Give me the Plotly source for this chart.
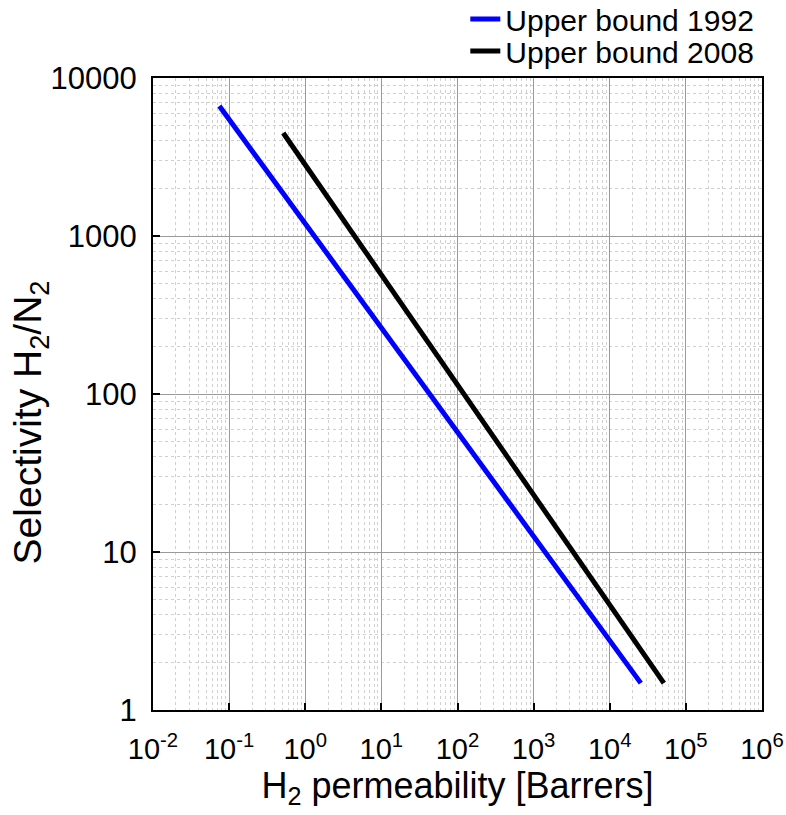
import plotly.graph_objects as go

# Data
perm_1992 = [0.0744, 25600]
sel_1992 = [6650, 1.48]
perm_2008 = [0.514, 51400]
sel_2008 = [4486, 1.48]

x_tickvals = [1e-2, 1e-1, 1e0, 1e1, 1e2, 1e3, 1e4, 1e5, 1e6]
x_ticktext = ["10<sup>-2</sup>", "10<sup>-1</sup>", "10<sup>0</sup>", "10<sup>1</sup>",
              "10<sup>2</sup>", "10<sup>3</sup>", "10<sup>4</sup>", "10<sup>5</sup>", "10<sup>6</sup>"]
y_tickvals = [1, 10, 100, 1000, 10000]
y_ticktext = ["1", "10", "100", "1000", "10000"]

FONT = "Liberation Sans, Arial, sans-serif"

fig = go.Figure()
fig.add_trace(go.Scatter(x=perm_1992, y=sel_1992, mode="lines", name="Upper bound 1992",
                         line=dict(color="#0000ff", width=5), legend="legend"))
fig.add_trace(go.Scatter(x=perm_2008, y=sel_2008, mode="lines", name="Upper bound 2008",
                         line=dict(color="#000000", width=5), legend="legend2"))

axis_common = dict(
    showline=True, linecolor="black", linewidth=2, mirror=True,
    ticks="inside", ticklen=7, tickwidth=2, tickcolor="black",
    showgrid=True, gridcolor="#9a9a9a", gridwidth=1,
    minor=dict(dtick="D1", showgrid=True, gridcolor="#d0d0d0", griddash="dot", gridwidth=1, ticks=""),
    zeroline=False,
)

fig.update_xaxes(type="log", range=[-2, 6], tickvals=x_tickvals, ticktext=x_ticktext,
                 tickfont=dict(family=FONT, size=29, color="black"), ticklabelstandoff=12,
                 title=dict(text="H<sub>2</sub> permeability [Barrers]",
                            font=dict(family=FONT, size=36, color="black"), standoff=4),
                 **axis_common)
fig.update_yaxes(type="log", range=[0, 4], tickvals=y_tickvals, ticktext=y_ticktext,
                 tickfont=dict(family=FONT, size=31, color="black"), ticklabelstandoff=8,
                 **axis_common)

# y-axis title (placed as in the reference, slightly below the axis centre)
fig.add_annotation(text="Selectivity H<sub>2</sub>/N<sub>2</sub>", textangle=-90,
                   xref="paper", yref="paper", x=-0.202, y=0.455,
                   xanchor="center", yanchor="middle", showarrow=False,
                   font=dict(family=FONT, size=39, color="black"))

leg_common = dict(xref="container", yref="container", xanchor="left", yanchor="middle",
                  font=dict(family=FONT, size=30, color="black"),
                  bgcolor="rgba(0,0,0,0)", borderwidth=0)

fig.update_layout(
    width=786, height=815,
    margin=dict(l=153, r=24, t=78, b=105, autoexpand=False),
    paper_bgcolor="white", plot_bgcolor="white",
    showlegend=True,
    legend=dict(x=0.592, y=1 - 19 / 815, **leg_common),
    legend2=dict(x=0.592, y=1 - 51 / 815, **leg_common),
)

fig.write_html("out.html")
